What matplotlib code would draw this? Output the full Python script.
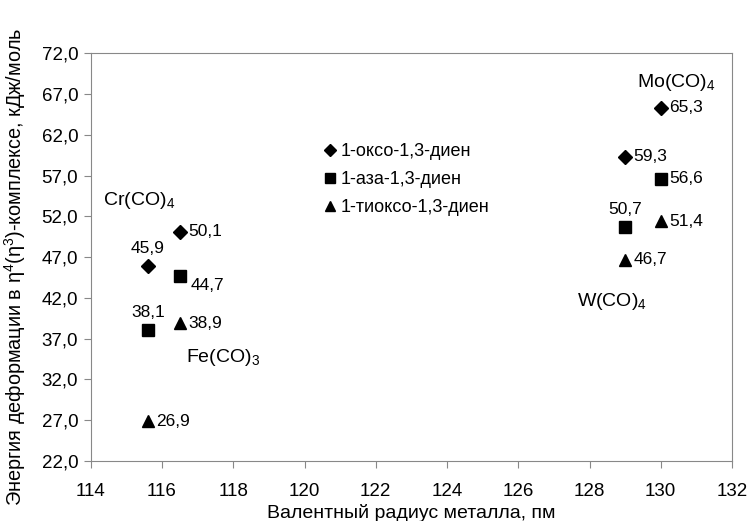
import matplotlib
matplotlib.use("Agg")
import matplotlib.pyplot as plt

plt.rcParams['font.family'] = ['Liberation Sans', 'DejaVu Sans']

# valence radius of the metal, pm
x_cr, x_fe, x_w, x_mo = 115.6, 116.5, 129.0, 130.0
radius = [x_cr, x_fe, x_w, x_mo]

# deformation energies, kJ/mol (order: Cr, Fe, W, Mo)
oxo = [45.9, 50.1, 59.3, 65.3]
aza = [38.1, 44.7, 50.7, 56.6]
thio = [26.9, 38.9, 46.7, 51.4]

series_names = ['1-оксо-1,3-диен', '1-аза-1,3-диен', '1-тиоксо-1,3-диен']

# label placement per point: 'r' right, 'u' above, 'dr' below right
oxo_pos = ['u', 'r', 'r', 'r']
aza_pos = ['u', 'dr', 'u', 'r']
thio_pos = ['r', 'r', 'r', 'r']

groups = ['Cr(CO)$_\\mathregular{4}$', 'Fe(CO)$_\\mathregular{3}$',
          'W(CO)$_\\mathregular{4}$', 'Mo(CO)$_\\mathregular{4}$']
group_xy = [(114.34, 54.0), (116.67, 34.75), (127.65, 41.5), (129.34, 68.45)]

fig = plt.figure(figsize=(7.5, 5.21), dpi=100)
ax = fig.add_axes([0.121, 0.115, 0.855, 0.783])

ax.plot(radius, oxo, 'D', color='black', ms=7.5, label=series_names[0])
ax.plot(radius, aza, 's', color='black', ms=9, label=series_names[1])
ax.plot(radius, thio, '^', color='black', ms=9, label=series_names[2])


def fmt(v):
    return f"{v:.1f}".replace('.', ',')


def label(xs, ys, where):
    for xv, yv, w in zip(xs, ys, where):
        if w == 'r':
            ax.annotate(fmt(yv), (xv, yv), xytext=(6, 0), textcoords='offset points',
                        ha='left', va='center', fontsize=12.5)
        elif w == 'u':
            ax.annotate(fmt(yv), (xv, yv), xytext=(0, 7), textcoords='offset points',
                        ha='center', va='bottom', fontsize=12.5)
        else:
            ax.annotate(fmt(yv), (xv, yv), xytext=(8, -7), textcoords='offset points',
                        ha='left', va='center', fontsize=12.5)


label(radius, oxo, oxo_pos)
label(radius, aza, aza_pos)
label(radius, thio, thio_pos)

for g, (gx, gy) in zip(groups, group_xy):
    ax.text(gx, gy, g, fontsize=14, ha='left', va='center')

ax.set_xlim(114, 132)
ax.set_ylim(22, 72)
ax.set_xticks(range(114, 133, 2))
yt = [22 + 5 * i for i in range(11)]
ax.set_yticks(yt)
ax.set_yticklabels([fmt(v) for v in yt])

for s in ax.spines.values():
    s.set_color('#888888')
ax.tick_params(direction='out', length=5, color='#888888', labelsize=13.5, pad=4)
ax.tick_params(axis='x', pad=11)

ax.set_xlabel('Валентный радиус металла, пм', fontsize=14, labelpad=3)
ax.set_ylabel('Энергия деформации в η$^\\mathregular{4}$(η$^\\mathregular{3}$)-комплексе, кДж/моль',
              fontsize=14.3, labelpad=2)
ax.yaxis.set_label_coords(-0.098, 0.475)

leg = ax.legend(loc='upper left', bbox_to_anchor=(0.332, 0.82), frameon=False,
                fontsize=13, handletextpad=0.05, labelspacing=0.62, handlelength=1.1,
                markerscale=0.75)

fig.savefig('out.png', dpi=100)
